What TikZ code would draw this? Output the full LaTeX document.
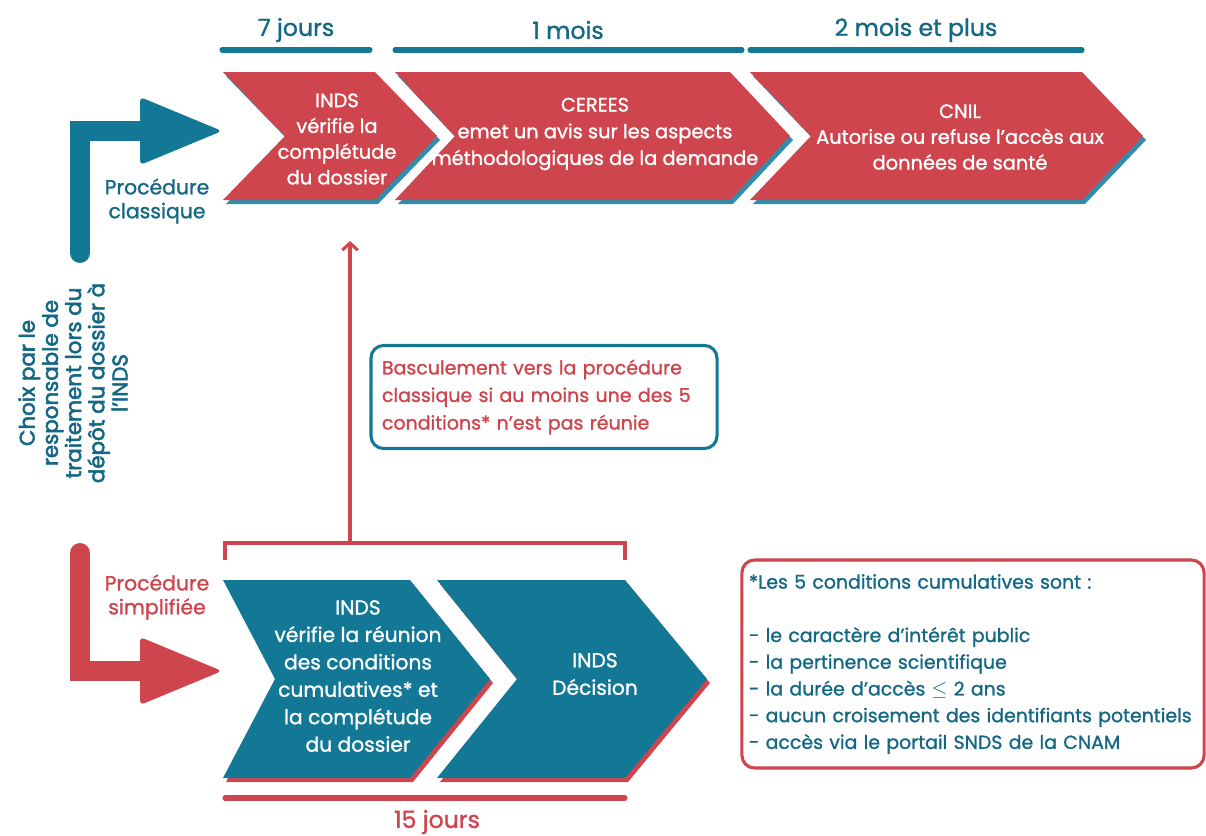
\documentclass[tikz,border=0pt]{standalone}
\usepackage{fontspec}
\setmainfont{Poppins}[RawFeature={embolden=1.2}]
\newfontfamily\medfont{Poppins}[RawFeature={embolden=2.6}]
\usetikzlibrary{arrows.meta, positioning}
\definecolor{redc}{RGB}{207,69,77}
\definecolor{tealc}{RGB}{18,120,150}
\definecolor{tealt}{RGB}{20,104,132}
\definecolor{tealsh}{RGB}{48,142,172}

\begin{document}
\begin{tikzpicture}[
    x=0.025cm, y=-0.025cm,
    wtext/.style={text=white, align=center, inner sep=0pt, font=\fontsize{13.8}{18.3}\selectfont},
    head/.style={inner sep=0pt, font=\fontsize{16.8}{19}\selectfont},
    side/.style={align=center, inner sep=0pt, font=\fontsize{14.5}{17}\selectfont},
    bar/.style={line width=3.6pt, line cap=round},
    thin/.style={draw=redc, line width=2.2pt},
    box/.style={rounded corners=9pt, line width=2.2pt, align=left, inner xsep=0pt, inner ysep=0pt}
]
\useasboundingbox (0,0) rectangle (1206,836);

% Chevrons
\foreach \l/\r/\d in {223/375/62, 395/730/60, 750/1082/61}{
  \fill[tealsh] (\l+3,76) -- (\r+3,76) -- (\r+\d+3,140) -- (\r+3,204) -- (\l+3,204) -- (\l+\d+3,140) -- cycle;
  \fill[redc] (\l,72) -- (\r,72) -- (\r+\d,136) -- (\r,200) -- (\l,200) -- (\l+\d,136) -- cycle;
}
\foreach \l/\r/\n/\d in {223/410/52/80, 437/625/80/82}{
  \fill[redc] (\l+3,584) -- (\r+3,584) -- (\r+\d+3,683) -- (\r+3,782) -- (\l+3,782) -- (\l+\n+3,683) -- cycle;
  \fill[tealc] (\l,580) -- (\r,580) -- (\r+\d,679) -- (\r,778) -- (\l,778) -- (\l+\n,679) -- cycle;
}

% Nodes
\node[head, text=tealt] (sept) at (296,30) {7 jours};
\node[head, text=tealt] (mois) at (568,30) {1 mois};
\node[head, text=tealt] (plus) at (916,30) {2 mois et plus};
\draw[bar, tealc] (222,50) -- (370,50);
\draw[bar, tealc] (395,50) -- (742,50);
\draw[bar, tealc] (750,50) -- (1082,50);

\node[wtext] (indsA) at (337,139) {INDS\\vérifie la\\complétude\\du dossier};
\node[wtext, font=\fontsize{13.8}{19}\selectfont] (cerees) at (595,134) {CEREES\\emet un avis sur les aspects\\méthodologiques de la demande};
\node[wtext] (cnil) at (960,137) {CNIL\\Autorise ou refuse l’accès aux\\données de santé};

\node[wtext, font=\fontsize{14.4}{19.5}\selectfont] (indsB) at (358,676) {INDS\\vérifie la réunion\\des conditions\\cumulatives* et\\la complétude\\du dossier};
\node[wtext, font=\fontsize{14.4}{19.5}\selectfont] (decision) at (595,674) {INDS\\Décision};

\node[side, text=tealt] (classique) at (157,201) {Procédure\\classique};
\node[side, text=redc] (simple) at (157,597) {Procédure\\simplifiée};
\node[side, text=tealt, rotate=90, font=\medfont\fontsize{15.2}{16.5}\selectfont] (choix) at (73,383)
  {Choix par le\\responsable de\\traitement lors du\\dépôt du dossier à\\l’INDS};

\node[box, draw=tealc, text=redc, minimum width=8.65cm, minimum height=2.575cm, text width=8.1cm,
  font=\fontsize{13.5}{19.6}\selectfont] (bascule) at (544,397)
  {Basculement vers la procédure\\classique si au moins une des 5\\conditions* n’est pas réunie};

\node[box, draw=redc, text=tealt, minimum width=11.55cm, minimum height=5.2cm, text width=11.2cm,
  font=\fontsize{13.45}{19}\selectfont] (conds) at (973,664)
  {*Les 5 conditions cumulatives sont :\\[19pt]
   - le caractère d’intérêt public\\
   - la pertinence scientifique\\
   - la durée d’accès $\leq$ 2 ans\\
   - aucun croisement des identifiants potentiels\\
   - accès via le portail SNDS de la CNAM};

\node[head, text=redc] (quinze) at (437,822) {15 jours};
\draw[bar, redc] (225,798) -- (625,798);

% Arrows
\coordinate (clsFoot) at (80,253);
\coordinate (clsTip) at (222,131);
\coordinate (simFoot) at (80,553);
\coordinate (simTip) at (222,671);
\draw[tealc, line width=14.2pt, line cap=round] (clsFoot) |- ([shift={(-70,0)}]clsTip);
\fill[tealc, rounded corners=3pt] ([shift={(-82,-34)}]clsTip) -- (clsTip) -- ([shift={(-82,34)}]clsTip) -- cycle;
\draw[redc, line width=14.2pt, line cap=round] (simFoot) |- ([shift={(-70,0)}]simTip);
\fill[redc, rounded corners=3pt] ([shift={(-82,-34)}]simTip) -- (simTip) -- ([shift={(-82,34)}]simTip) -- cycle;

\coordinate (brk) at (350,543);
\coordinate (upTip) at (350,241);
\draw[thin] (225,560) -- (225,543) -- (625,543) -- (625,560);
\draw[thin, -{Straight Barb[length=5pt, width=11pt]}] (brk) -- (upTip);

\end{tikzpicture}
\end{document}
